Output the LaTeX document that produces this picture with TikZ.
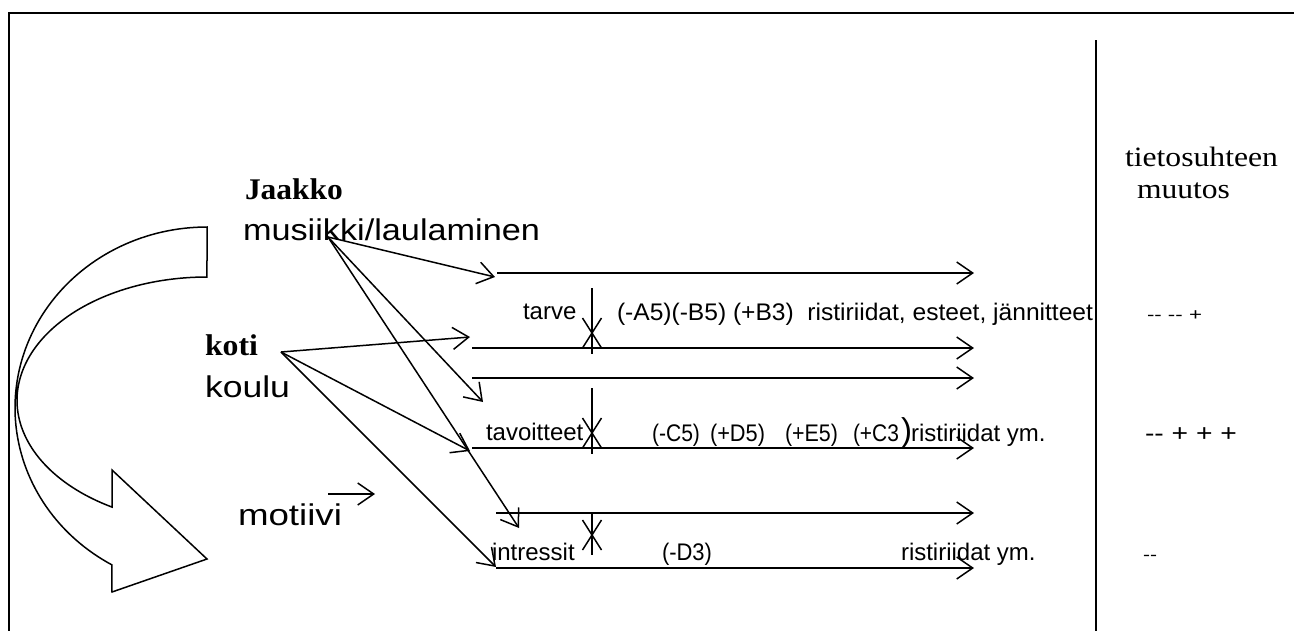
\documentclass[tikz,border=0pt]{standalone}
\usepackage{fontspec}
\setmainfont{Liberation Serif}
\setsansfont{Liberation Sans}
\usetikzlibrary{arrows.meta}
\newcommand{\wbox}[2]{\resizebox{#1pt}{\height}{#2}}
\begin{document}
\begin{tikzpicture}[x=1pt,y=-1pt,
  ln/.style={line width=1.5pt},
  frame/.style={line width=2pt},
  arr/.style={line width=1.5pt,-{Straight Barb[length=16pt,width=22pt]}},
  lbl/.style={anchor=base west,inner sep=0pt,outer sep=0pt},
  bigserif/.style={lbl,font=\fontsize{30}{33}\selectfont\bfseries},
  serif/.style={lbl,font=\fontsize{28}{31}\selectfont},
  bigsans/.style={lbl,font=\fontsize{30}{33}\selectfont\sffamily},
  rowsans/.style={lbl,font=\fontsize{24}{27}\selectfont\sffamily},
  xmark/.pic={\draw[line width=1.5pt] (-9.5,-15) -- (9.5,15) (-9.5,15) -- (9.5,-15);}
]
\useasboundingbox (0,0) rectangle (1294,630);

% frame and separator
\coordinate (fbl) at (8.5,632);
\coordinate (ftl) at (8.5,12.7);
\coordinate (ftr) at (1296,12.7);
\draw[frame] (fbl) -- (ftl) -- (ftr);
\coordinate (sept) at (1096,40);
\coordinate (sepb) at (1096,632);
\draw[frame] (sept) -- (sepb);

% curved block arrow
\draw[ln,line join=miter]
  plot[domain=90:240.3,samples=90,variable=\t] ({207+192*cos(\t)},{407.8-180.8*sin(\t)})
  -- (112,592) -- (207,559) -- (112,470)
  -- plot[domain=240:90,samples=90,variable=\t] ({207+190*cos(\t)},{400.3-123.3*sin(\t)})
  -- cycle;

% left labels
\node[bigserif] (jaakko) at (245,199) {\wbox{98}{Jaakko}};
\node[bigsans] (musiikki) at (243,240) {\wbox{297}{musiikki/laulaminen}};
\node[bigserif] (koti) at (205,355) {\wbox{53}{koti}};
\node[bigsans] (koulu) at (205,397) {\wbox{85}{koulu}};
\node[bigsans] (motiivi) at (238,525) {\wbox{104}{motiivi}};
\coordinate (mota) at (328,494);
\coordinate (motb) at (375,494);
\draw[arr] (mota) -- (motb);

% right header
\node[serif] (tieto) at (1125,166) {\wbox{153}{tietosuhteen}};
\node[serif] (muutos) at (1137,198) {\wbox{93}{muutos}};

% horizontal lines
\coordinate (a1) at (497,273);  \coordinate (a2) at (974,273);
\coordinate (b1) at (472,348);  \coordinate (b2) at (974,348);
\coordinate (c1) at (472,378);  \coordinate (c2) at (974,378);
\coordinate (d1) at (472,448);  \coordinate (d2) at (974,448);
\coordinate (e1) at (496,513);  \coordinate (e2) at (974,513);
\coordinate (f1) at (496,568);  \coordinate (f2) at (974,568);
\foreach \p in {a,b,c,d,e,f} {\draw[arr] (\p1) -- (\p2);}

% ticks
\coordinate (t1a) at (592,288); \coordinate (t1b) at (592,354);
\coordinate (t2a) at (592,388); \coordinate (t2b) at (592,454);
\coordinate (t3a) at (592,513); \coordinate (t3b) at (592,555);
\draw[ln] (t1a) -- (t1b);
\draw[ln] (t2a) -- (t2b);
\draw[ln] (t3a) -- (t3b);
\pic at (592,333) {xmark};
\pic at (592,433) {xmark};
\pic at (592,535) {xmark};

% arrows from musiikki and koti
\coordinate (ms) at (328,237);
\coordinate (mA) at (495,277);
\coordinate (mC) at (483,402);
\coordinate (mE) at (519,528);
\draw[arr] (ms) -- (mA);
\draw[arr] (ms) -- (mC);
\draw[arr] (ms) -- (mE);
\coordinate (ks) at (281,352);
\coordinate (kB) at (470,337);
\coordinate (kD) at (470,451);
\coordinate (kF) at (496,567);
\draw[arr] (ks) -- (kB);
\draw[arr] (ks) -- (kD);
\draw[arr] (ks) -- (kF);

% row texts
\node[rowsans] (tarve) at (523,319) {tarve};
\node[rowsans] (r1) at (617,320) {\wbox{476}{(-A5)(-B5) (+B3)\ \ ristiriidat, esteet, jännitteet}};
\node[rowsans] (tavoitteet) at (486,440) {tavoitteet};
\node[rowsans] (c5) at (652,441) {\wbox{48}{(-C5)}};
\node[rowsans] (d5) at (710,441) {\wbox{55}{(+D5)}};
\node[rowsans] (e5) at (785,441) {\wbox{53}{(+E5)}};
\node[rowsans] (c3) at (853,441) {\wbox{46}{(+C3}};
\node[lbl,font=\fontsize{33}{36}\selectfont\sffamily] (paren) at (901,441) {)};
\node[rowsans] (r2) at (911,441) {ristiriidat ym.};
\node[rowsans] (intressit) at (492,560) {intressit};
\node[rowsans] (d3) at (662,560) {\wbox{50}{(-D3)}};
\node[rowsans] (r3) at (901,560) {ristiriidat ym.};

% right column values
\node[lbl,font=\fontsize{17}{20}\selectfont\sffamily] (v1) at (1147,320) {\wbox{55}{-{}- -{}- +}};
\node[lbl,font=\fontsize{24}{27}\selectfont\sffamily] (v2) at (1145,441) {\wbox{92}{-{}- + + +}};
\node[lbl,font=\fontsize{17}{20}\selectfont\sffamily] (v3) at (1143,560) {\wbox{14}{-{}-}};
\end{tikzpicture}
\end{document}
